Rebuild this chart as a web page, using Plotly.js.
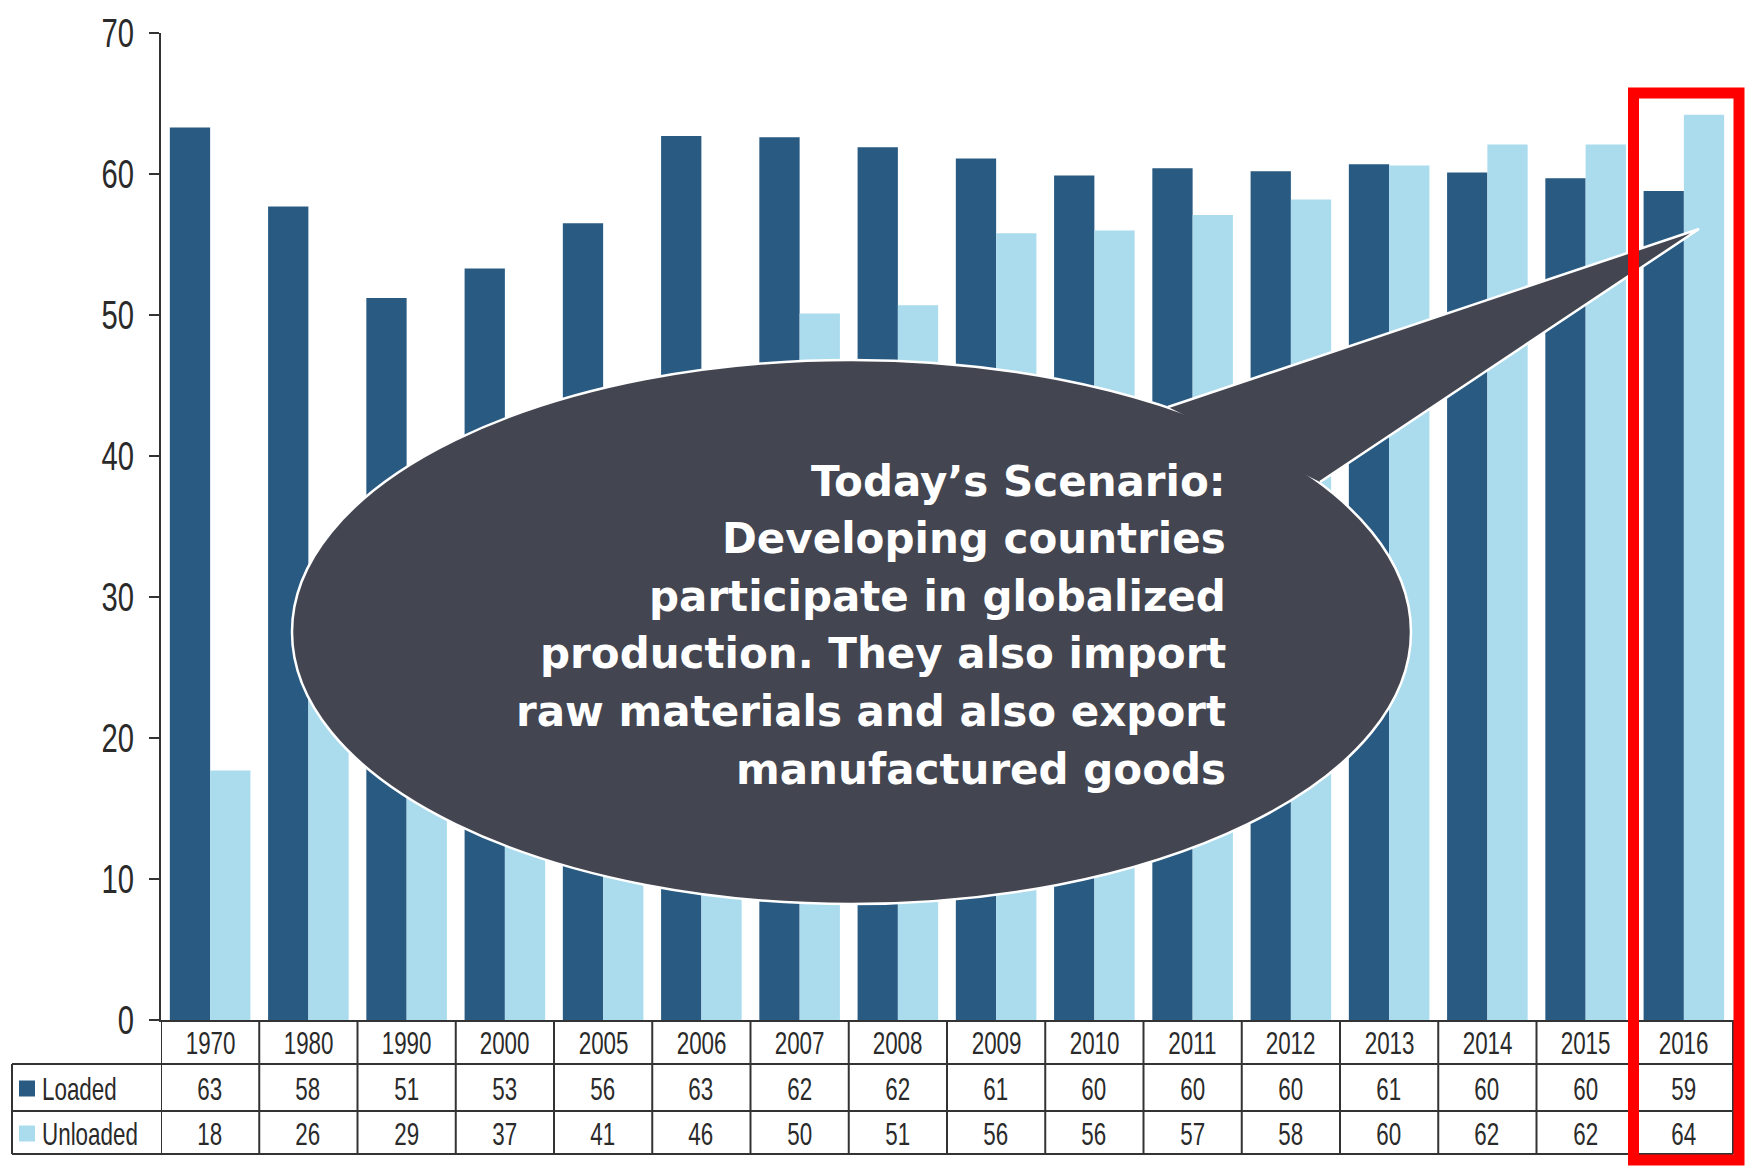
<!DOCTYPE html>
<html>
<head>
<meta charset="utf-8">
<script src="https://cdn.plot.ly/plotly-3.0.1.min.js"></script>
<style>html,body{margin:0;padding:0;background:#fff;}#chart{width:1749px;height:1168px;}</style>
</head>
<body>
<div id="chart"></div>
<script>
// ---- data ----
const years = ["1970","1980","1990","2000","2005","2006","2007","2008","2009","2010","2011","2012","2013","2014","2015","2016"];
const loadedBars   = [63.3,57.7,51.2,53.3,56.5,62.7,62.6,61.9,61.1,59.9,60.4,60.2,60.7,60.1,59.7,58.8];
const unloadedBars = [17.7,25.8,28.9,37.0,41.0,46.0,50.1,50.7,55.8,56.0,57.1,58.2,60.6,62.1,62.1,64.2];
const loadedLabels   = ["63","58","51","53","56","63","62","62","61","60","60","60","61","60","60","59"];
const unloadedLabels = ["18","26","29","37","41","46","50","51","56","56","57","58","60","62","62","64"];
const seriesNames = ["Loaded","Unloaded"];
const calloutLines = ["Today’s Scenario:","Developing countries","participate in globalized","production. They also import","raw materials and also export","manufactured goods"];

// ---- style ----
const DARK = "#285a82", LIGHT = "#aadcee", INK = "#2a2a2a", AXIS = "#333333";
const NARROW = "'Liberation Sans', Arial, sans-serif";
const W = 1749, H = 1168, L = 161, R = 16, T = 33, B = 148;
const pw = W - L - R, ph = H - T - B;
const px = x => (x - L) / pw;            // pixel -> paper x
const py = y => (H - B - y) / ph;        // pixel -> paper y

const traces = [
  {type:"bar", name:seriesNames[0], x:years, y:loadedBars, marker:{color:DARK}, hoverinfo:"x+y"},
  {type:"bar", name:seriesNames[1], x:years, y:unloadedBars, marker:{color:LIGHT}, hoverinfo:"x+y"}
];

const shapes = [];
const annotations = [];
const squeezeList = [];   // [annotation index, pivot, scale]
const rowY = [1020, 1064, 1111, 1154];
const lineStyle = {color:AXIS, width:2};

// table horizontal lines
for (let r = 1; r < rowY.length; r++) {
  shapes.push({type:"line", xref:"paper", yref:"paper", x0:px(12), x1:1, y0:py(rowY[r]), y1:py(rowY[r]), line:lineStyle});
}
// left border of label column
shapes.push({type:"line", xref:"paper", yref:"paper", x0:px(12), x1:px(12), y0:py(rowY[1]), y1:py(rowY[3]), line:lineStyle});
// column dividers
years.forEach((yr, i) => {
  shapes.push({type:"line", xref:"x", yref:"paper", x0:i-0.5, x1:i-0.5, y0:py(rowY[0]), y1:py(rowY[3]), line:lineStyle});
});
shapes.push({type:"line", xref:"paper", yref:"paper", x0:1, x1:1, y0:py(rowY[0]), y1:py(rowY[3]), line:lineStyle});

// table texts
const cellFont = {family:NARROW, size:32, color:INK};
function addCell(x, xref, yPix, text, xanchor) {
  annotations.push({xref:xref, yref:"paper", x:x, y:py(yPix), text:text, showarrow:false, font:cellFont, xanchor:xanchor, yanchor:"middle"});
  squeezeList.push([annotations.length - 1, xanchor === "left" ? "left" : "center", 0.70]);
}
years.forEach((yr, i) => {
  addCell(i, "x", (rowY[0]+rowY[1])/2 + 1, yr, "center");
  addCell(i, "x", (rowY[1]+rowY[2])/2 + 1, loadedLabels[i], "center");
  addCell(i, "x", (rowY[2]+rowY[3])/2 + 1, unloadedLabels[i], "center");
});
// legend keys in table
[[DARK, seriesNames[0], 1], [LIGHT, seriesNames[1], 2]].forEach(([c, name, r]) => {
  const cy = (rowY[r] + rowY[r+1]) / 2 + 1;
  shapes.push({type:"rect", xref:"paper", yref:"paper", x0:px(19), x1:px(35), y0:py(cy+8), y1:py(cy-8), fillcolor:c, line:{width:0}});
  addCell(px(40), "paper", cy, name, "left");
});

// callout bubble
const BUBBLE = "#434550";
shapes.push({type:"circle", xref:"paper", yref:"paper", x0:px(292), x1:px(1411), y0:py(904), y1:py(360), fillcolor:BUBBLE, line:{color:"#ffffff", width:2.5}, layer:"above"});
const b1 = [px(1168), py(407)], tip = [px(1699), py(229)], b2 = [px(1320), py(482)];
shapes.push({type:"path", xref:"paper", yref:"paper",
  path:`M${b1[0]},${b1[1]} L${tip[0]},${tip[1]} L${b2[0]},${b2[1]}`,
  fillcolor:BUBBLE, line:{color:"#ffffff", width:2.5}, layer:"above"});
const lineTop = 481, lineStep = 57.6;
calloutLines.forEach((t, k) => {
  annotations.push({xref:"paper", yref:"paper", x:px(1228), y:py(lineTop + k*lineStep), xanchor:"right", yanchor:"middle", align:"right",
    text:t, showarrow:false, font:{family:"'DejaVu Sans', Verdana, sans-serif", size:42, weight:"bold", color:"#ffffff"}});
});

// red highlight box
shapes.push({type:"rect", xref:"paper", yref:"paper", x0:px(1633.5), x1:px(1739), y0:py(1160), y1:py(93), fillcolor:"rgba(0,0,0,0)", line:{color:"#ff0000", width:11}, layer:"above"});

const layout = {
  width:W, height:H,
  margin:{l:L, r:R, t:T, b:B, pad:0},
  paper_bgcolor:"#ffffff", plot_bgcolor:"#ffffff",
  showlegend:false,
  barmode:"group", bargap:0.18, bargroupgap:0,
  xaxis:{type:"category", range:[-0.5, 15.5], showticklabels:false, ticks:"", showgrid:false, zeroline:false,
         showline:true, linecolor:AXIS, linewidth:2, fixedrange:true},
  yaxis:{range:[0,70], dtick:10, tick0:0, showgrid:false, zeroline:false, showline:true, linecolor:AXIS, linewidth:2,
         ticks:"outside", ticklen:10, tickwidth:2, tickcolor:AXIS, ticklabelstandoff:7,
         tickfont:{family:NARROW, size:40, color:INK}, fixedrange:true},
  shapes:shapes,
  annotations:annotations
};

function squeeze(el, sx, pivot) {
  const bb = el.getBBox();
  const cx = pivot === "left" ? bb.x : pivot === "right" ? bb.x + bb.width : bb.x + bb.width / 2;
  const orig = el.getAttribute("transform") || "";
  el.setAttribute("transform", `${orig} translate(${cx},0) scale(${sx},1) translate(${-cx},0)`);
}

const gd = document.getElementById("chart");
Plotly.newPlot(gd, traces, layout, {staticPlot:true}).then(() => {
  gd.querySelectorAll(".ytick text").forEach(t => squeeze(t, 0.73, "right"));
  const annEls = gd.querySelectorAll("g.annotation");
  squeezeList.forEach(([idx, pivot, sx]) => {
    const g = gd.querySelector(`g.annotation[data-index="${idx}"]`) || annEls[idx];
    if (!g) return;
    const t = g.querySelector("text.annotation-text") || g.querySelector("text");
    if (t) squeeze(t, sx, pivot);
  });
});
</script>
</body>
</html>
